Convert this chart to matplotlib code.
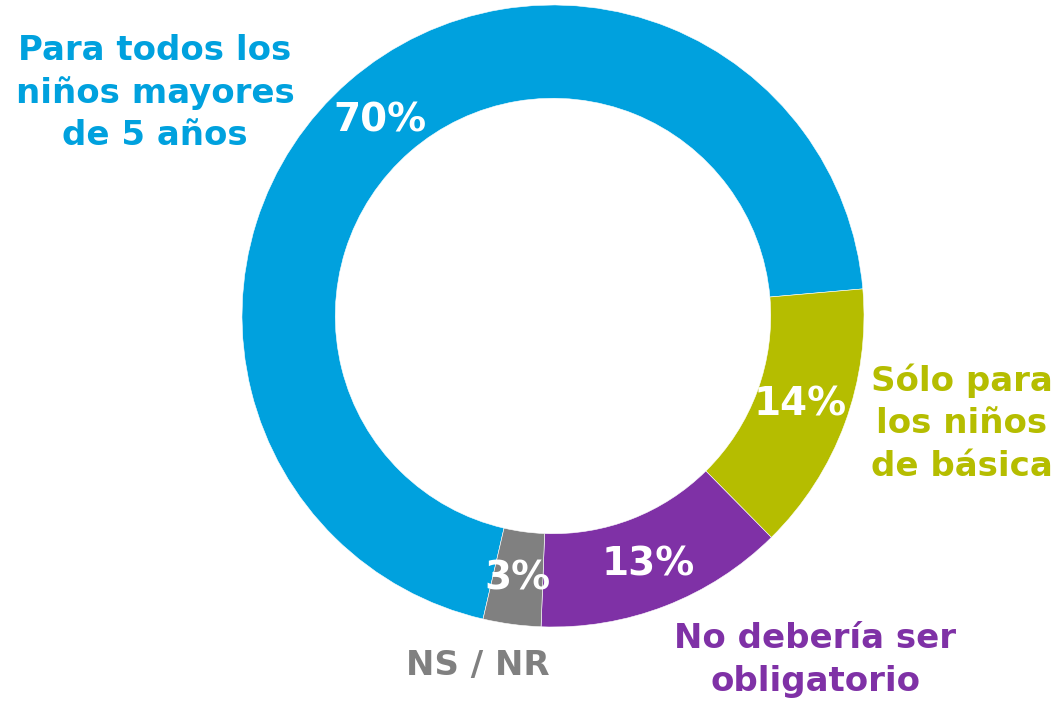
import matplotlib
matplotlib.use("Agg")
import matplotlib.pyplot as plt

# donut data (clockwise from the gray/blue boundary)
categories = ["Para todos los\nniños mayores\nde 5 años", "Sólo para\nlos niños\nde básica",
              "No debería ser\nobligatorio", "NS / NR"]
values = [70, 14, 13, 3]
colors = ["#00A1DE", "#B5BD00", "#7F31A6", "#808080"]

W, H = 1061, 703
fig = plt.figure(figsize=(W / 100, H / 100), dpi=100)
cx, cy, r = 553, 316, 311
ax = fig.add_axes([(cx - r) / W, (H - cy - r) / H, 2 * r / W, 2 * r / H])
ax.pie(values, colors=colors, startangle=257, counterclock=False,
       wedgeprops=dict(width=0.3, edgecolor="white", linewidth=0.4))
ax.set_xlim(-1, 1)
ax.set_ylim(-1, 1)
ax.set_aspect("equal")
ax.axis("off")

fam = ["DejaVu Sans"]

def px(x, y):
    return x / W, 1 - y / H

# percentage labels inside the ring
pct_pos = [(380, 120), (800, 405), (648, 565), (517, 578)]
for v, (x, y) in zip(values, pct_pos):
    fig.text(*px(x, y), f"{v}%", color="white", fontsize=28, fontweight="bold",
             ha="center", va="center", family=fam)

# category labels
lab_pos = [(155, 93), (962, 423), (815, 660), (478, 665)]
for lab, c, (x, y) in zip(categories, colors, lab_pos):
    fig.text(*px(x, y), lab, color=c, fontsize=24.5, fontweight="bold",
             ha="center", va="center", linespacing=1.36, family=fam)

fig.savefig("out.png", dpi=100, facecolor="white")
